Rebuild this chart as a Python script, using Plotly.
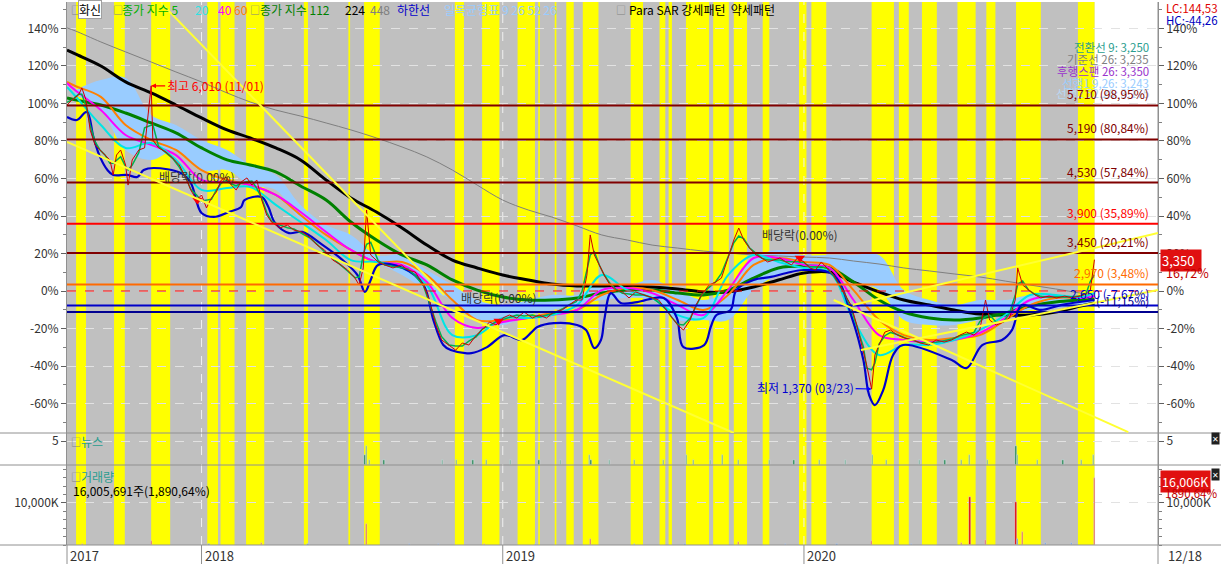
import plotly.graph_objects as go
from plotly.subplots import make_subplots
import pandas as pd

BASE = 2870  # 0% reference price (won)

# ---------------- price (percent vs base) ----------------
price_dates = ["2017-07-22","2017-07-28","2017-08-05","2017-08-09","2017-08-14","2017-08-19","2017-08-25","2017-08-31",
"2017-09-06","2017-09-12","2017-09-16","2017-09-20","2017-09-25","2017-10-01","2017-10-04","2017-10-09","2017-10-17",
"2017-10-24","2017-11-01","2017-11-03","2017-11-10","2017-11-19","2017-11-27","2017-12-05","2017-12-13","2017-12-19",
"2017-12-26","2018-01-01","2018-01-07","2018-01-13","2018-01-19","2018-01-25","2018-01-31","2018-02-06","2018-02-12",
"2018-02-18","2018-02-25","2018-03-03","2018-03-09","2018-03-15","2018-03-21","2018-03-27","2018-04-06","2018-04-15",
"2018-04-23","2018-05-03","2018-05-13","2018-05-21","2018-05-30","2018-06-09","2018-06-19","2018-06-27","2018-07-06",
"2018-07-11","2018-07-16","2018-07-20","2018-07-25","2018-08-03","2018-08-11","2018-08-21","2018-08-31","2018-09-08",
"2018-09-17","2018-09-27","2018-10-04","2018-10-12","2018-10-19","2018-10-28","2018-11-05","2018-11-13","2018-11-21",
"2018-11-30","2018-12-07","2018-12-16","2018-12-24","2019-01-01","2019-01-09","2019-01-18","2019-01-27","2019-02-06",
"2019-02-14","2019-02-23","2019-03-04","2019-03-14","2019-03-22","2019-03-31","2019-04-07","2019-04-13","2019-04-17",
"2019-04-22","2019-04-28","2019-05-04","2019-05-11","2019-05-18","2019-05-26","2019-06-03","2019-06-11","2019-06-21",
"2019-07-01","2019-07-09","2019-07-18","2019-07-25","2019-08-01","2019-08-08","2019-08-16","2019-08-23","2019-08-30",
"2019-09-08","2019-09-16","2019-09-23","2019-09-30","2019-10-08","2019-10-14","2019-10-20","2019-10-27","2019-11-04",
"2019-11-11","2019-11-18","2019-11-25","2019-12-03","2019-12-10","2019-12-17","2019-12-24","2020-01-01","2020-01-08",
"2020-01-15","2020-01-22","2020-01-29","2020-02-06","2020-02-13","2020-02-20","2020-02-27","2020-03-05","2020-03-13",
"2020-03-17","2020-03-23","2020-03-27","2020-04-01","2020-04-08","2020-04-15","2020-04-23","2020-05-02","2020-05-12",
"2020-05-21","2020-05-31","2020-06-09","2020-06-19","2020-06-28","2020-07-08","2020-07-16","2020-07-25","2020-08-01",
"2020-08-08","2020-08-13","2020-08-21","2020-08-30","2020-09-06","2020-09-13","2020-09-16","2020-09-22","2020-09-29",
"2020-10-07","2020-10-14","2020-10-24","2020-11-02","2020-11-12","2020-11-21","2020-12-01","2020-12-08","2020-12-13",
"2020-12-18"]
price_pct = [99.2,101.9,104.5,108.3,101.9,85.9,77.9,75.2,
72.5,69.9,61.9,72.5,75.2,67.2,56.5,69.9,75.2,
76.3,109.4,80.5,76.3,74.1,70.9,67.2,60.3,53.9,
48.5,51.2,44.3,49.6,52.8,59.2,60.8,56.5,53.9,
58.1,60.3,56.5,59.2,48.5,40.5,36.8,33.6,35.2,
32.5,31.5,28.3,24.5,21.9,16.5,13.9,11.2,6.9,
3.2,12.3,43.2,19.2,15.5,13.9,12.3,13.9,11.2,
10.1,3.2,-4.8,-18.1,-26.1,-28.8,-31.5,-27.7,-28.8,
-23.5,-20.8,-16.5,-18.1,-14.4,-12.8,-14.4,-11.2,-14.4,
-12.8,-14.4,-11.2,-10.1,-7.5,-4.8,-4.8,8.5,29.9,
19.2,13.9,8.5,3.2,0.5,-0.5,-3.7,-0.5,-2.1,
-3.7,-4.8,-10.1,-14.4,-18.1,-20.8,-15.5,-7.5,-2.1,
3.2,4.8,6.9,16.5,27.2,33.6,27.2,22.9,19.2,
17.6,15.5,16.5,17.6,15.5,13.9,17.6,15.5,12.3,
11.2,15.5,12.3,8.5,3.2,-2.1,-7.5,-18.1,-31.5,
-39.5,-52.3,-34.1,-28.8,-21.9,-20.8,-23.5,-25.1,-26.1,
-27.7,-28.8,-26.1,-27.2,-26.1,-23.5,-21.9,-23.5,-20.8,
-4.8,-15.5,-18.1,-16.5,-14.4,-4.8,12.3,3.2,0.5,
-2.1,-3.7,-2.7,-3.7,-2.7,-3.7,-2.7,-1.6,0.5,
16.72]

# ---------------- monthly readings of the smooth indicator lines ----------------
line_dates = ["2017-07-22","2017-08-01","2017-09-01","2017-10-01","2017-11-01","2017-12-01",
"2018-01-01","2018-02-01","2018-03-01","2018-04-01","2018-05-01","2018-06-01","2018-07-01","2018-08-01",
"2018-09-01","2018-10-01","2018-11-01","2018-12-01","2019-01-01","2019-02-01","2019-03-01","2019-04-01",
"2019-05-01","2019-06-01","2019-07-01","2019-08-01","2019-09-01","2019-10-01","2019-11-01","2019-12-01",
"2020-01-01","2020-02-01","2020-03-01","2020-04-01","2020-05-01","2020-06-01","2020-07-01","2020-08-01",
"2020-09-01","2020-10-01","2020-11-01","2020-12-01","2020-12-18"]
ma20 = [108.8,104,88.5,76.3,78.9,69.9,53.9,54.9,55.5,45.9,36.8,27.2,16.5,15.5,12.3,3.2,-23.5,-23.5,-14.4,-14.4,
        -12.8,-7.5,8.5,0.5,-3.7,-12.8,-14.4,8.5,19.2,15.5,12.3,10.1,-15.5,-34.1,-28.8,-28.8,-26.1,-20.8,-12.8,
        -2.1,-2.1,-3.2,-1.1]
ma40 = [110.9,107,96.5,83.2,77.9,72.5,59.2,58.1,56.5,51.2,42.1,31.5,21.9,15.5,13.9,4.8,-14.4,-19.7,-16.5,-14.4,
        -12.8,-10.1,0.5,1.6,-1.1,-7.5,-12.8,0.5,17.6,17.6,13.9,12.3,-4.8,-23.5,-26.1,-27.2,-26.1,-22.4,-14.4,
        -4.8,-2.7,-3.7,-2.7]
ma60 = [111.5,109.3,103.5,88.5,80.5,75.2,64.5,59.2,56.5,51.2,40.5,29.9,21.9,15.5,15.5,8.5,-4.8,-15.5,-15.5,-14.4,
        -11.7,-10.1,-2.1,1.6,0.5,-4.8,-10.1,-2.1,13.9,17.6,15.5,13.9,0.5,-15.5,-23.5,-26.1,-25.1,-23.5,-15.5,
        -7.5,-3.7,-3.7,-3.2]
ma112 = [102.9,101.9,99.2,94.9,89.6,84.3,76.3,69.9,67.2,63.5,56,48.5,36.8,27.2,19.2,13.9,5.9,0.5,-3.2,-4.8,
         -4.8,-3.7,-1.1,0.5,0.5,-1.1,-2.1,0.5,6.9,12.3,13.3,12.3,4.8,-4.8,-11.2,-14.4,-15.5,-14.4,-11.7,
         -8,-5.9,-4.8,-4.3]
ma224 = [128.5,126.4,120,111.5,105.6,99.2,92.3,85.9,81.6,76.3,69.9,59.2,49.6,42.1,33.6,24.5,16.5,12.3,8.5,5.9,
         3.7,2.7,2.7,2.7,2.1,1.1,-0.5,-0.5,2.1,5.9,9.6,10.1,4.8,-0.5,-4.8,-7.5,-10.1,-12.3,-12.8,
         -12.8,-11.2,-8,-6.4]
ma448 = [140.3,138.7,132.8,127.5,122.1,116.8,111.5,105.6,100.8,96.5,93.3,89.6,85.9,81.6,76.8,71.5,64.5,56.5,48.5,
         43.2,39.5,34.7,29.9,27.2,24.5,22.9,21.3,20.3,19.2,18.7,18.1,17.6,16,14.4,12.3,10.7,9.1,7.5,5.3,
         3.2,1.1,-1.1,-2.1]
cloud_top = [107.2,112.5,113.6,93.9,88.5,80.5,75.2,67.2,61.9,45.9,35.2,29.9,19.2,19.2,11.2,3.2,-4.8,-7.5,-4.8,
             -2.1,-2.1,4.3,3.2,5.9,0.5,-4.8,0.5,17.6,21.9,19.2,19.2,19.2,19.2,0.5,-4.8,-7.5,-4.8,-4.8,-2.1,
             -2.1,-3.7,-3.7]
cloud_bot = [104.5,96.5,75.2,69.9,75.2,64.5,64.5,56.5,53.9,37.9,29.9,21.9,15.5,8.5,0.5,-4.8,-15.5,-18.1,-12.8,
             -10.1,-7.5,-4.8,-3.7,-4.8,-15.5,-15.5,-15.5,0.5,8.5,11.2,13.9,5.9,0.5,-15.5,-18.1,-18.1,-15.5,
             -12.8,-10.1,-9.1,-7.5,-7.5]

# lower band (하한선)
low_dates = ["2017-07-22","2017-08-03","2017-08-15","2017-08-23","2017-08-31","2017-09-09","2017-09-16","2017-10-03",
"2017-10-15","2017-10-23","2017-11-04","2017-12-07","2017-12-19","2018-01-01","2018-01-16","2018-02-03","2018-02-18",
"2018-02-22","2018-03-15","2018-03-23","2018-03-31","2018-04-17","2018-05-03","2018-05-28","2018-06-21","2018-07-09",
"2018-07-18","2018-07-25","2018-08-03","2018-09-02","2018-09-27","2018-10-09","2018-10-21","2018-10-30","2018-11-24",
"2018-12-13","2019-01-03","2019-01-24","2019-02-05","2019-02-12","2019-03-04","2019-04-01","2019-04-12","2019-04-22",
"2019-04-30","2019-05-04","2019-05-12","2019-05-24","2019-06-13","2019-07-15","2019-07-31","2019-08-08","2019-09-02",
"2019-09-10","2019-09-17","2019-10-04","2019-10-11","2019-11-01","2019-11-22","2019-12-11","2020-01-01","2020-02-06",
"2020-02-29","2020-03-13","2020-03-20","2020-03-27","2020-04-06","2020-04-18","2020-04-30","2020-06-28","2020-07-16",
"2020-08-04","2020-08-28","2020-09-09","2020-09-21","2020-10-14","2020-11-07","2020-12-18"]
low_pct = [92.8,91.2,95.5,82.1,71.5,64.5,61.9,61.9,60.8,64.5,65.6,62.9,57.6,41.6,39.5,42.1,44.8,48.5,50.1,44.8,
           36.3,30.9,31.5,24.5,16.5,8.5,-0.5,5.9,13.9,12.3,3.2,-15.5,-28.8,-31.5,-33.1,-29.9,-23.5,-26.1,-21.9,
           -19.2,-17.1,-18.1,-20.8,-30.4,-26.1,-15.5,-1.1,-6.4,-5.9,-3.7,-14.4,-29.9,-28.8,-19.2,-12.8,-10.1,0.5,
           5.9,7.5,9.6,11.2,8.5,-15.5,-36.8,-55.5,-60.8,-52.8,-34.1,-28.8,-36.8,-41.1,-28.8,-26.1,-20.8,-7.5,
           -10.1,-7.5,-4.8]

# ---------------- Parabolic SAR pattern periods (yellow) ----------------
sar_start = ["2017-08-02","2017-09-17","2017-11-01","2018-01-08","2018-01-24","2018-02-24","2018-05-05","2018-06-28",
             "2018-07-17","2018-11-04","2018-12-07","2019-01-19","2019-02-13","2019-03-05","2019-03-19","2019-04-08",
             "2019-06-05","2019-07-10","2019-07-21","2019-08-11","2019-09-13","2019-10-08","2019-11-12","2019-12-26",
             "2020-01-10","2020-03-23","2020-04-25","2020-05-23","2020-07-05","2020-08-09","2020-09-14","2020-11-28"]
sar_end = ["2017-08-14","2017-09-30","2017-11-24","2018-01-21","2018-02-10","2018-03-18","2018-05-10","2018-06-30",
           "2018-08-05","2018-11-15","2018-12-28","2019-02-09","2019-02-15","2019-03-07","2019-03-28","2019-04-27",
           "2019-06-20","2019-07-17","2019-07-25","2019-09-08","2019-10-02","2019-10-24","2019-11-20","2020-01-04",
           "2020-01-28","2020-04-19","2020-05-07","2020-06-10","2020-07-27","2020-08-20","2020-10-14","2020-12-18"]

# ---------------- horizontal price levels ----------------
level_price = [5710, 5190, 4530, 3900, 3450, 2970, 2650, 2550]
level_text = ["5,710 (98,95%)", "5,190 (80,84%)", "4,530 (57,84%)", "3,900 (35,89%)", "3,450 (20,21%)",
              "2,970 (3,48%)", "2,650 (-7,67%)", "(-11,15%)"]
level_color = ["#800000", "#800000", "#800000", "#ff0000", "#800000", "#ff6a00", "#0000c8", "#000090"]

# ---------------- trend lines (start/end) ----------------
trend_x0 = ["2017-07-22", "2017-11-13", "2020-02-29", "2020-03-10", "2020-02-06"]
trend_y0 = [79.5, 153.6, -7.5, -31.5, -4.8]
trend_x1 = ["2019-10-08", "2018-10-22", "2021-03-05", "2021-03-05", "2021-01-28"]
trend_y1 = [-75.7, -2.1, 30.9, 0.5, -75.2]

# ---------------- dividend (배당락) ----------------
div_dates = ["2017-12-27", "2018-12-27", "2019-12-27"]
div_pct = [48.5, -16.0, 17.6]

# ---------------- volume & news ----------------
vol_dates = ["2017-08-10","2017-09-15","2017-11-01","2018-01-10","2018-03-15","2018-05-10","2018-07-20","2018-09-10",
             "2018-10-15","2018-12-10","2019-02-10","2019-04-17","2019-06-10","2019-08-10","2019-10-14","2019-12-10",
             "2020-02-10","2020-03-23","2020-05-10","2020-07-10","2020-07-20","2020-08-08","2020-09-14","2020-09-16",
             "2020-09-22","2020-10-20","2020-11-20","2020-12-18"]
vol_k = [350,300,900,300,400,250,5000,300,350,300,250,1500,250,300,600,300,300,900,350,400,11500,1200,10200,1500,
         3100,500,400,16006]
vol_up = [1,0,1,0,1,0,1,0,0,1,0,1,0,0,1,0,0,1,0,1,1,1,1,0,1,0,0,1]

news_dates = ["2018-07-18","2018-07-20","2018-07-24","2018-08-10","2018-10-20","2018-11-06","2018-11-26","2018-12-12",
              "2019-01-10","2019-02-14","2019-03-12","2019-04-16","2019-04-18","2019-05-10","2019-06-10","2019-07-15",
              "2019-08-12","2019-08-20","2019-09-10","2019-09-24","2019-10-14","2019-11-20","2019-12-20","2020-01-20",
              "2020-02-20","2020-03-24","2020-04-10","2020-05-20","2020-06-20","2020-07-10","2020-07-20","2020-08-10",
              "2020-09-14","2020-09-16","2020-10-10","2020-11-10","2020-12-02","2020-12-17"]
news_cnt = [2,4,1,1,1,1,1,1,1,1,1,2,1,1,1,1,2,1,1,2,1,1,1,1,1,2,1,1,1,1,2,1,4,2,1,1,1,2]

year_ticks = ["2017-07-22", "2018-01-01", "2019-01-01", "2020-01-01"]
year_text = ["2017", "2018", "2019", "2020"]

# ---------------- figure ----------------
FONT = "Noto Sans CJK KR"
X0, XEND, XMAX = "2017-07-22", "2020-12-18", "2021-03-05"
YMIN, YMAX = -75.7, 154.1

fig = make_subplots(rows=3, cols=1, shared_xaxes=True, vertical_spacing=0,
                    row_heights=[431, 32, 80])

line_defs = [
    (ma448, "#7f7f7f", 1.0),
    (ma224, "#000000", 3.0),
    (ma112, "#008000", 3.0),
    (ma60, "#ff8000", 2.0),
    (ma40, "#ff00ff", 2.0),
    (ma20, "#00e5e5", 2.0),
]

# Ichimoku cloud
fig.add_trace(go.Scatter(x=line_dates[1:], y=cloud_bot, mode="lines", line=dict(width=0, color="#99ccff"),
                         hoverinfo="skip", showlegend=False, line_shape="spline"), row=1, col=1)
fig.add_trace(go.Scatter(x=line_dates[1:], y=cloud_top, mode="lines", line=dict(width=0, color="#99ccff"),
                         fill="tonexty", fillcolor="#99ccff", hoverinfo="skip", showlegend=False,
                         line_shape="spline"), row=1, col=1)

for vals, col, w in line_defs:
    fig.add_trace(go.Scatter(x=line_dates, y=vals, mode="lines", line=dict(color=col, width=w, shape="spline"),
                             hoverinfo="skip", showlegend=False), row=1, col=1)

# lower band
fig.add_trace(go.Scatter(x=low_dates, y=low_pct, mode="lines", line=dict(color="#0000cc", width=2.2, shape="spline"),
                         hoverinfo="skip", showlegend=False), row=1, col=1)

# MA5 and price
ps = pd.Series(price_pct)
ma5 = ps.rolling(3, center=True, min_periods=1).mean()
fig.add_trace(go.Scatter(x=price_dates, y=ma5, mode="lines", line=dict(color="#00b050", width=1.5),
                         hoverinfo="skip", showlegend=False), row=1, col=1)
fig.add_trace(go.Scatter(x=price_dates, y=price_pct, mode="lines", line=dict(color="#d00000", width=1),
                         hoverinfo="skip", showlegend=False), row=1, col=1)

# dividend markers
fig.add_trace(go.Scatter(x=div_dates, y=div_pct, mode="markers",
                         marker=dict(symbol="triangle-down", color="#ff0000", size=9),
                         hoverinfo="skip", showlegend=False), row=1, col=1)

# news bars
fig.add_trace(go.Bar(x=news_dates, y=news_cnt, marker_color="#2e8b57", width=86400000 * 1.5,
                     hoverinfo="skip", showlegend=False), row=2, col=1)
# volume bars
fig.add_trace(go.Bar(x=vol_dates, y=[v * 1000 for v in vol_k],
                     marker_color=["#e00000" if u else "#0050c8" for u in vol_up],
                     width=86400000 * 1.6, hoverinfo="skip", showlegend=False), row=3, col=1)

# right-side overlay axes (dummy invisible traces so they render)
fig.add_trace(go.Scatter(x=[X0], y=[0], mode="markers", marker=dict(opacity=0), yaxis="y4", xaxis="x",
                         hoverinfo="skip", showlegend=False))
fig.add_trace(go.Scatter(x=[X0], y=[0], mode="markers", marker=dict(opacity=0), yaxis="y5", xaxis="x2",
                         hoverinfo="skip", showlegend=False))
fig.add_trace(go.Scatter(x=[X0], y=[0], mode="markers", marker=dict(opacity=0), yaxis="y6", xaxis="x3",
                         hoverinfo="skip", showlegend=False))

shapes = []
# gray background + yellow SAR bands over all panels
shapes.append(dict(type="rect", xref="x", yref="paper", x0=X0, x1=XEND, y0=0, y1=1,
                   fillcolor="#c0c0c0", line=dict(width=0), layer="below"))
for s, e in zip(sar_start, sar_end):
    shapes.append(dict(type="rect", xref="x", yref="paper", x0=s, x1=e, y0=0, y1=1,
                       fillcolor="#ffff00", line=dict(width=0), layer="below"))
# year separators (dashed white)
for d in year_ticks[1:]:
    shapes.append(dict(type="line", xref="x", yref="paper", x0=d, x1=d, y0=0, y1=1,
                       line=dict(color="#f0f0f0", width=1, dash="dash"), layer="below"))
    shapes.append(dict(type="line", xref="x", yref="paper", x0=d, x1=d, y0=-19 / 543, y1=0,
                       line=dict(color="#909090", width=1)))
shapes.append(dict(type="line", xref="paper", yref="paper", x0=0, x1=0, y0=-19 / 543, y1=0,
                   line=dict(color="#909090", width=1)))
shapes.append(dict(type="line", xref="paper", yref="paper", x0=1, x1=1, y0=-19 / 543, y1=1,
                   line=dict(color="#909090", width=1)))
# panel separators
for yp in [0, 80 / 543, 112 / 543]:
    shapes.append(dict(type="line", xref="paper", yref="paper", x0=-67 / 1091, x1=1 + 63 / 1091, y0=yp, y1=yp,
                       line=dict(color="#909090", width=1)))
# horizontal price levels
for p, c in zip(level_price, level_color):
    v = (p / BASE - 1) * 100
    shapes.append(dict(type="line", xref="paper", yref="y", x0=0, x1=1, y0=v, y1=v,
                       line=dict(color=c, width=2)))
# dashed base-price line
shapes.append(dict(type="line", xref="paper", yref="y", x0=0, x1=1, y0=0, y1=0,
                   line=dict(color="#ff0000", width=1, dash="dash")))
# trend lines
for a, b, c, d in zip(trend_x0, trend_y0, trend_x1, trend_y1):
    shapes.append(dict(type="line", xref="x", yref="y", x0=a, y0=b, x1=c, y1=d,
                       line=dict(color="#ffff33", width=2)))

ann = []
def A(text, x, y, color="#000000", size=12, xanchor="left", xref="paper", yref="paper", **kw):
    d = dict(text=text, x=x, y=y, xref=xref, yref=yref, showarrow=False, xanchor=xanchor, yanchor="middle",
             font=dict(family=FONT, size=size, color=color))
    d.update(kw)
    ann.append(d)

def px(xp):
    return (xp - 67) / 1091

def py(yp):
    return (545 - yp) / 543

# top legend
A("□", px(69), py(10), "#808080", 10)
A("화신", px(78), py(10), "#000000", 12, bgcolor="#ffffff", bordercolor="#a0a0a0", borderpad=0)
A("□", px(111), py(10), "#808080", 10)
A("종가 지수 5", px(120), py(10), "#00b000")
A("20", px(193), py(10), "#33e0e0")
A("40", px(216), py(10), "#ff00ff")
A("60", px(232), py(10), "#ff8000")
A("□", px(248), py(10), "#808080", 10)
A("종가 지수 112", px(258), py(10), "#008000")
A("224", px(343), py(10), "#000000")
A("448", px(368), py(10), "#7f7f7f")
A("하한선", px(395), py(10), "#0000cc")
A("일목균형표 9 26 52 26", px(442), py(10), "#99ccff")
A("□", px(614), py(10), "#808080", 10)
A("Para SAR 강세패턴  약세패턴", px(627), py(10), "#000000")

# right top texts
A("LC:144,53", 1.0, py(8), "#e00000", 11.5, xanchor="right", xshift=62)
A("HC:-44,26", 1.0, py(20), "#0000c0", 11.5, xanchor="right", xshift=62)

# ichimoku values
A("전환선 9: 3,250", px(1151), py(47), "#2a9d8f", 11.5, xanchor="right")
A("기준선 26: 3,235", px(1151), py(59), "#7f7f7f", 11.5, xanchor="right")
A("후행스팬 26: 3,350", px(1151), py(71), "#9933cc", 11.5, xanchor="right")
A("선행1 9,26: 3,243", px(1151), py(83), "#99ccff", 11.5, xanchor="right")
A("선행2 52,26: 3,175", px(1151), py(93), "#b8d8f4", 11.5, xanchor="right")

# level labels
for p, t, c in zip(level_price, level_text, level_color):
    v = (p / BASE - 1) * 100
    ann.append(dict(text=t, x=px(1151), y=v, xref="paper", yref="y", showarrow=False, xanchor="right",
                    yanchor="bottom", yshift=1, font=dict(family=FONT, size=12, color=c)))

# high / low annotations
ann.append(dict(text="최고 6,010 (11/01)", x="2017-11-01", y=(6010 / BASE - 1) * 100, xref="x", yref="y",
                showarrow=True, arrowhead=2, arrowsize=0.8, arrowwidth=1.2, arrowcolor="#ff0000", ax=64, ay=0,
                font=dict(family=FONT, size=12, color="#ff0000")))
ann.append(dict(text="최저 1,370 (03/23)", x="2020-03-23", y=(1370 / BASE - 1) * 100, xref="x", yref="y",
                showarrow=True, arrowhead=2, arrowsize=0.8, arrowwidth=1.2, arrowcolor="#0000ff", ax=-66, ay=-2,
                font=dict(family=FONT, size=12, color="#0000d0")))
for d, v in zip(div_dates, div_pct):
    ann.append(dict(text="배당락(0.00%)", x=d, y=v, xref="x", yref="y", showarrow=False, yshift=24,
                    font=dict(family=FONT, size=12, color="#333333")))

# price tag at right
A("3,350  ", px(1160), py(260), "#ffffff", 13, bgcolor="#e01010", borderpad=1)
A("16,72%", px(1164), py(273), "#c00000", 12.5)

# news / volume labels
A("□", px(69), py(441), "#808080", 10)
A("뉴스", px(79), py(441), "#2a9d8f")
A("□", px(69), py(476), "#808080", 10)
A("거래량", px(79), py(476), "#2a9d8f")
A("16,005,691주(1,890,64%)", px(71), py(490), "#000000")
A("16,006K", px(1160), py(481), "#ffffff", 12.5, bgcolor="#e01010", borderpad=1)
A("1890,64%", px(1163), py(493), "#c00000", 11.5)
A("✕", px(1211), py(438), "#ffffff", 8, bgcolor="#202020", borderpad=0)
A("✕", px(1211), py(474), "#ffffff", 8, bgcolor="#202020", borderpad=0)

# x-axis labels
for d, t in zip(year_ticks, year_text):
    ann.append(dict(text=t, x=d, y=py(555), xref="x", yref="paper", showarrow=False, xanchor="left",
                    yanchor="middle", xshift=1, font=dict(family=FONT, size=13, color="#333333")))
A("12/18", px(1166), py(555), "#333333", 13)

fig.update_layout(
    width=1221, height=564, margin=dict(l=67, r=63, t=2, b=19, autoexpand=False),
    paper_bgcolor="#ffffff", plot_bgcolor="#ffffff",
    showlegend=False, bargap=0,
    shapes=shapes, annotations=ann,
    font=dict(family=FONT, size=12, color="#333333"),
)

pct_ticks = [140, 120, 100, 80, 60, 40, 20, 0, -20, -40, -60]
pct_text = [f"{t}%" for t in pct_ticks]
ycommon = dict(tickfont=dict(family=FONT, size=12, color="#333333"), ticks="outside", ticklen=5,
               tickcolor="#606060", showline=True, linecolor="#909090", zeroline=False, automargin=False)

fig.update_yaxes(row=1, col=1, range=[YMIN, YMAX], tickvals=pct_ticks, ticktext=pct_text,
                 showgrid=True, gridcolor="#e2e2e2", griddash="dash", gridwidth=1,
                 minor=dict(ticks="outside", ticklen=3, tickcolor="#808080", dtick=10, showgrid=False), **ycommon)
fig.update_yaxes(row=2, col=1, range=[0, 6.67], tickvals=[5], ticktext=["5"],
                 showgrid=True, gridcolor="#e2e2e2", griddash="dash", **ycommon)
fig.update_yaxes(row=3, col=1, range=[0, 19.0e6], tickvals=[10e6], ticktext=["10,000K"],
                 showgrid=True, gridcolor="#e2e2e2", griddash="dash",
                 minor=dict(ticks="outside", ticklen=3, tickcolor="#808080", dtick=2e6, showgrid=False), **ycommon)

fig.update_layout(
    yaxis4=dict(overlaying="y", side="right", range=[YMIN, YMAX], tickvals=pct_ticks, ticktext=pct_text,
                showgrid=False, anchor="x",
                minor=dict(ticks="outside", ticklen=3, tickcolor="#808080", dtick=10), **ycommon),
    yaxis5=dict(overlaying="y2", side="right", range=[0, 6.67], tickvals=[5], ticktext=["5"], showgrid=False,
                anchor="x2", **ycommon),
    yaxis6=dict(overlaying="y3", side="right", range=[0, 19.0e6], tickvals=[10e6], ticktext=["10,000K"],
                showgrid=False, anchor="x3",
                minor=dict(ticks="outside", ticklen=3, tickcolor="#808080", dtick=2e6), **ycommon),
)

fig.update_xaxes(range=[X0, XMAX], showgrid=False, zeroline=False, showline=False, ticks="",
                 showticklabels=False, automargin=False)

fig.write_html("out.html", config={"displayModeBar": False},
               post_script="document.body.style.margin='0px';document.body.style.padding='0px';")
